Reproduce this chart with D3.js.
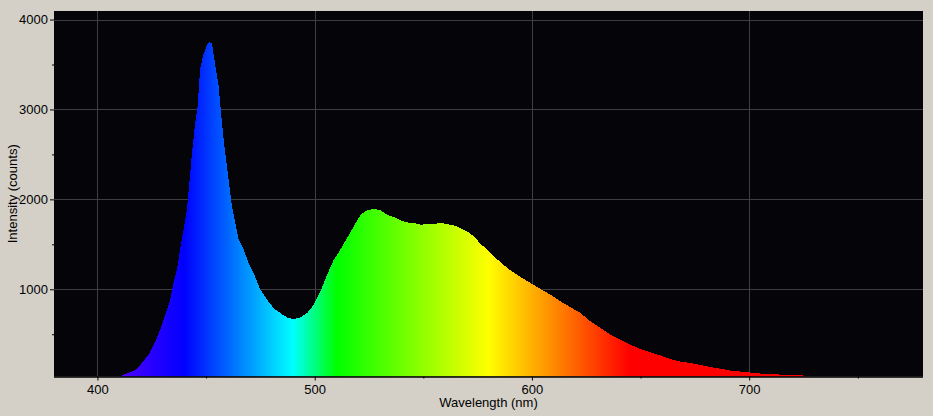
<!DOCTYPE html>
<html>
<head>
<meta charset="utf-8">
<script src="https://cdn.jsdelivr.net/npm/d3@7"></script>
<style>
  html, body { margin: 0; padding: 0; background: #d4d0c8; }
  svg { display: block; }
  text { font-family: "Liberation Sans", Arial, sans-serif; font-size: 13px; fill: #000; }
</style>
</head>
<body>
<svg id="chart" width="933" height="416"></svg>
<script>
// ---- data ----
const wavelengths = [410, 412, 415, 418, 421, 424, 427, 430, 433.5, 435, 436.6, 438, 439.6, 441.2, 442.7, 443.5, 445, 446.1, 447.3, 448.8, 450.4, 451.5, 452.7, 454.2, 455.8, 457.3, 458.8, 460.4, 461.9, 463.5, 465, 467.3, 469.6, 471.9, 475, 478.1, 481.1, 484.2, 487.3, 490.3, 493.4, 496.5, 499.5, 502.6, 505.7, 508.8, 511.8, 514.9, 518, 521.1, 524.1, 527.2, 530.3, 533.4, 536.4, 539.5, 542.6, 545.6, 548.7, 551.8, 554.8, 557.9, 561, 564.1, 567.1, 570.2, 573.3, 576.4, 581, 585.6, 590.2, 594.8, 599.4, 604, 608.6, 613.2, 617.7, 622.4, 627, 631.6, 636.3, 640.8, 645.5, 650.1, 654.7, 659.3, 663.9, 668.5, 673.1, 677.7, 682.3, 686.9, 691.5, 696.2, 700.8, 705.3, 711.5, 716.1, 720.7, 724.6, 726];
const intensity = [30, 48, 78, 111, 196, 289, 437, 623, 883, 1069, 1217, 1440, 1662, 1885, 2293, 2516, 2850, 3035, 3462, 3610, 3722, 3752, 3733, 3499, 3257, 2850, 2516, 2219, 1922, 1737, 1551, 1440, 1291, 1180, 994, 883, 790, 735, 686, 668, 686, 735, 827, 975, 1161, 1328, 1440, 1570, 1699, 1829, 1877, 1896, 1877, 1829, 1803, 1766, 1743, 1737, 1718, 1725, 1725, 1737, 1725, 1710, 1681, 1643, 1587, 1505, 1403, 1298, 1209, 1135, 1069, 1002, 938, 864, 801, 735, 641, 568, 493, 437, 382, 334, 298, 263, 223, 196, 178, 159, 134, 115, 96, 85, 73, 62, 56, 48, 45, 44, 30];
const xMajorTicks = [400, 500, 600, 700];
const xMinorTicks = [450, 550, 650, 750];
const yMajorTicks = [1000, 2000, 3000, 4000];
const yMinorTicks = [500, 1500, 2500, 3500];
const xDomain = [380, 780];
const yDomain = [30, 4095];
// spectral colour stops (wavelength -> colour)
const spectrumStops = [
  [380, "#a000ff"], [440, "#0000ff"], [490, "#00ffff"], [510, "#00ff00"],
  [580, "#ffff00"], [645, "#ff0000"], [780, "#ff0000"]
];

// ---- layout ----
const svg = d3.select("#chart");
const L = 54, R = 923, T = 11, B = 376.5;
const x = d3.scaleLinear().domain(xDomain).range([L, R]);
const y = d3.scaleLinear().domain(yDomain).range([B, T]);

// plot background
svg.append("rect").attr("x", L).attr("y", T).attr("width", R - L).attr("height", B - T).attr("fill", "#050408");

const defs = svg.append("defs");
defs.append("clipPath").attr("id", "clip").append("rect")
  .attr("x", L).attr("y", T).attr("width", R - L).attr("height", B - T);
const grad = defs.append("linearGradient").attr("id", "spec")
  .attr("gradientUnits", "userSpaceOnUse")
  .attr("x1", x(xDomain[0])).attr("x2", x(xDomain[1])).attr("y1", 0).attr("y2", 0);
spectrumStops.forEach(([w, c]) => {
  grad.append("stop").attr("offset", (w - xDomain[0]) / (xDomain[1] - xDomain[0])).attr("stop-color", c);
});

// grid
const grid = svg.append("g").attr("stroke", "#3e3e42").attr("stroke-width", 1).attr("shape-rendering", "crispEdges");
xMajorTicks.forEach(v => grid.append("line").attr("x1", Math.round(x(v)) + 0.5).attr("x2", Math.round(x(v)) + 0.5).attr("y1", T).attr("y2", B));
yMajorTicks.forEach(v => grid.append("line").attr("y1", Math.round(y(v)) + 0.5).attr("y2", Math.round(y(v)) + 0.5).attr("x1", L).attr("x2", R));

// spectrum
const data = wavelengths.map((w, i) => ({ w, v: intensity[i] }));
const area = d3.area().x(d => x(d.w)).y0(B).y1(d => y(d.v)).curve(d3.curveLinear);
svg.append("path").datum(data).attr("clip-path", "url(#clip)")
  .attr("shape-rendering", "crispEdges")
  .attr("d", area).attr("fill", "url(#spec)");

// axes
const xAxis = svg.append("g").attr("transform", `translate(0,${B})`);
xAxis.call(d3.axisBottom(x).tickValues(xMajorTicks).tickSize(4).tickPadding(4).tickFormat(d3.format("d")));
const xMinor = svg.append("g").attr("transform", `translate(0,${B})`);
xMinor.call(d3.axisBottom(x).tickValues(xMinorTicks).tickSize(2).tickFormat(""));
xMinor.select(".domain").remove();

const yAxis = svg.append("g").attr("transform", `translate(${L},0)`);
yAxis.call(d3.axisLeft(y).tickValues(yMajorTicks).tickSize(4).tickPadding(2).tickFormat(d3.format("d")));
yAxis.select(".domain").remove();
const yMinor = svg.append("g").attr("transform", `translate(${L},0)`);
yMinor.call(d3.axisLeft(y).tickValues(yMinorTicks).tickSize(2).tickFormat(""));
yMinor.select(".domain").remove();

svg.selectAll(".tick text").attr("font-family", "Liberation Sans, Arial, sans-serif").attr("font-size", 13).attr("fill", "#000");
svg.selectAll(".tick line").attr("stroke", "#000");
xAxis.select(".domain").attr("stroke", "#000").attr("d", `M${L},0.5H${R}`).attr("stroke-width", 1.5);

// labels
svg.append("text").attr("x", (L + R) / 2).attr("y", 407).attr("text-anchor", "middle").text("Wavelength (nm)");
svg.append("text").attr("transform", `translate(17,${(T + B) / 2}) rotate(-90)`).attr("text-anchor", "middle").text("Intensity (counts)");
</script>
</body>
</html>
